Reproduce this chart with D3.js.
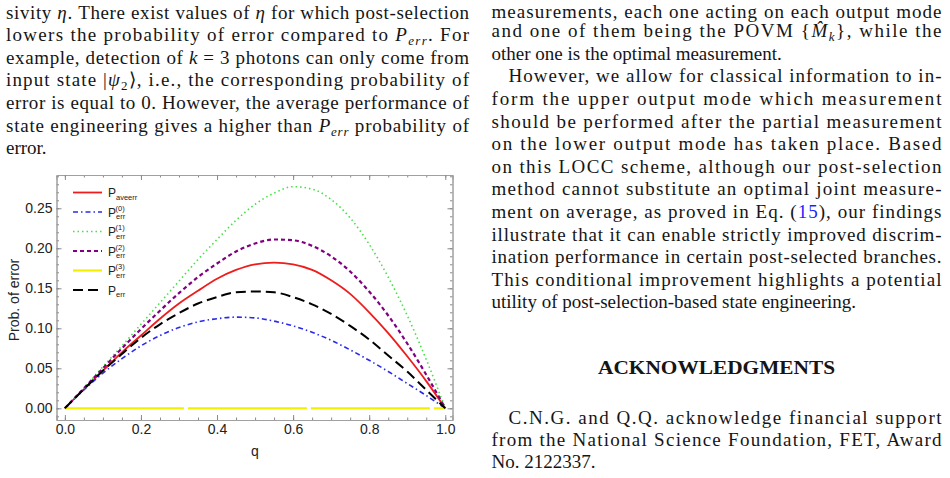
<!DOCTYPE html>
<html>
<head>
<meta charset="utf-8">
<script src="https://d3js.org/d3.v7.min.js"></script>
<style>
  body{margin:0;background:#fff;}
  svg{display:block;}
  .txt{font-family:"Liberation Serif","Times New Roman",serif;font-size:19px;fill:#151515;}
  .ax{font-family:"Liberation Sans",Arial,sans-serif;fill:#222;}
</style>
</head>
<body>
<script>
// values
const qValues = [0,0.05,0.1,0.15,0.2,0.25,0.3,0.35,0.4,0.45,0.5,0.55,0.6,0.65,0.7,0.75,0.8,0.85,0.9,0.95,1];
const pAveErr = [0,0.024,0.047,0.070,0.091,0.112,0.131,0.147,0.162,0.173,0.180,0.182,0.180,0.173,0.160,0.143,0.120,0.094,0.065,0.034,0];
const pErr0   = [0,0.023,0.044,0.062,0.078,0.091,0.101,0.108,0.112,0.114,0.113,0.109,0.103,0.095,0.085,0.073,0.060,0.046,0.031,0.016,0];
const pErr1   = [0,0.025,0.052,0.078,0.105,0.132,0.159,0.186,0.211,0.235,0.255,0.269,0.277,0.274,0.261,0.238,0.205,0.164,0.116,0.061,0];
const pErr2   = [0,0.025,0.050,0.075,0.099,0.122,0.144,0.164,0.181,0.196,0.206,0.211,0.210,0.203,0.190,0.171,0.146,0.116,0.081,0.042,0];
const pErr3   = [0,0,0,0,0,0,0,0,0,0,0,0,0,0,0,0,0,0,0,0,0];
const pErr    = [0,0.024,0.047,0.068,0.088,0.105,0.119,0.131,0.139,0.145,0.146,0.145,0.139,0.130,0.118,0.103,0.086,0.066,0.046,0.023,0];
const xTicks = [0,0.2,0.4,0.6,0.8,1.0];
const yTicks = [0,0.05,0.10,0.15,0.20,0.25];
const legendSup = [null,"(0)","(1)","(2)","(3)",null];
const legendSub = ["aveerr","err","err","err","err","err"];

const series = [
  {v:pAveErr, color:"#ee1d1d", dash:null, w:1.8},
  {v:pErr0, color:"#2a2aee", dash:"5,3,1.5,3", w:1.6},
  {v:pErr1, color:"#45e045", dash:"1.5,3", w:1.6},
  {v:pErr2, color:"#800080", dash:"4,3", w:2.2},
  {v:pErr3, color:"#f2f000", dash:"119,4", w:2.2},
  {v:pErr, color:"#000", dash:"10,5", w:2}
];

// page text
const leftLines = [
  [["sivity "],["η","i"],[". There exist values of "],["η","i"],[" for which post-selection"]],
  [["lowers the probability of error compared to "],["P","i"],["err","isub"],[".  For"]],
  [["example, detection of "],["k","i"],[" = 3 photons can only come from"]],
  [["input state |"],["ψ","i"],["2","sub"],["⟩, i.e., the corresponding probability of"]],
  [["error is equal to 0. However, the average performance of"]],
  [["state engineering gives a higher than "],["P","i"],["err","isub"],[" probability of"]],
  [["error."]]
];
const leftJustify = [1,1,1,1,1,1,0];

const rightLines = [
  [["measurements, each one acting on each output mode"]],
  [["and one of them being the POVM {"],["M\u0302","i"],["k","isub"],["}, while the"]],
  [["other one is the optimal measurement."]],
  [["However, we allow for classical information to in-"]],
  [["form the upper output mode which measurement"]],
  [["should be performed after the partial measurement"]],
  [["on the lower output mode has taken place.  Based"]],
  [["on this LOCC scheme, although our post-selection"]],
  [["method cannot substitute an optimal joint measure-"]],
  [["ment on average, as proved in Eq. ("],["15","blue"],["), our findings"]],
  [["illustrate that it can enable strictly improved discrim-"]],
  [["ination performance in certain post-selected branches."]],
  [["This conditional improvement highlights a potential"]],
  [["utility of post-selection-based state engineering."]]
];
const rightJustify = [1,1,0,1,1,1,1,1,1,1,1,1,1,0];
const rightIndent  = [0,0,0,1,0,0,0,0,0,0,0,0,0,0];
const ackLines = [
  [["C.N.G. and Q.Q. acknowledge financial support"]],
  [["from the National Science Foundation, FET, Award"]],
  [["No. 2122337."]]
];
const ackJustify = [1,1,0];

const W = 950, H = 478;
const svg = d3.select("body").append("svg").attr("width",W).attr("height",H);

function drawLine(g, segs, x, y, width, justify){
  const t = g.append("text").attr("class","txt").attr("x",x).attr("y",y);
  if (justify) t.attr("textLength",width).attr("lengthAdjust","spacing");
  let shifted = 0;
  segs.forEach(([s,k])=>{
    const ts = t.append("tspan").text(s);
    const isSub = k==="sub" || k==="isub";
    if (k && k.indexOf("i")===0) ts.attr("font-style","italic");
    if (isSub){ ts.attr("font-size","13px"); if(!shifted){ts.attr("dy",4); shifted=1;} }
    else if (shifted){ ts.attr("dy",-4); shifted=0; }
    if (k==="blue") ts.attr("fill","#1f1fff");
  });
}

const textG = svg.append("g");
const lx0 = 6, lx1 = 469, rx0 = 491.5, rx1 = 941.5, indent = 17, lh = 22.6;
leftLines.forEach((l,i)=>drawLine(textG, l, lx0, 18.5 + i*lh, lx1-lx0, leftJustify[i]));
rightLines.forEach((l,i)=>{
  const x0 = rx0 + (rightIndent[i]?indent:0);
  // first line sits at the page top; keep it fully inside
  drawLine(textG, l, x0, i===0 ? 17.5 : 14.5 + i*lh, rx1-x0, rightJustify[i]);
});
textG.append("text").attr("class","txt")
  .attr("x",716.5).attr("y",374).attr("text-anchor","middle")
  .attr("font-weight","bold").attr("font-size","16px")
  .attr("textLength",237).attr("lengthAdjust","spacingAndGlyphs")
  .text("ACKNOWLEDGMENTS");
ackLines.forEach((l,i)=>{
  const x0 = rx0 + (i===0?indent:0);
  drawLine(textG, l, x0, 423.5 + i*22.4, rx1-x0, ackJustify[i]);
});

// chart
const x = d3.scaleLinear().domain([-0.022,1.019]).range([56.5,452.5]);
const y = d3.scaleLinear().domain([-0.0146,0.2916]).range([420,175]);
const chart = svg.append("g");

const fmtX = d3.format(".1f"), fmtY = d3.format(".2f");
function frameAxis(axis, pos, major, minor, labels, fmt){
  const gMinor = chart.append("g").attr("transform",pos)
    .call(axis.tickValues(minor).tickSize(-2.5).tickFormat(""));
  const g = chart.append("g").attr("transform",pos)
    .call(axis.tickValues(major).tickSize(-5).tickPadding(labels?4:0).tickFormat(labels?fmt:""));
  [gMinor,g].forEach(a=>{
    a.select(".domain").attr("stroke","#a0a0a0");
    a.selectAll(".tick line").attr("stroke","#8a8a8a");
  });
  g.selectAll("text").attr("class","ax").attr("font-size","14px");
  return g;
}
const xMinor = x.ticks(20), yMinor = y.ticks(30);
frameAxis(d3.axisBottom(x), "translate(0,420)", xTicks, xMinor, true, fmtX);
frameAxis(d3.axisTop(x), "translate(0,175)", xTicks, xMinor, false);
frameAxis(d3.axisLeft(y), "translate(56.5,0)", yTicks, yMinor, true, fmtY);
frameAxis(d3.axisRight(y), "translate(452.5,0)", yTicks, yMinor, false);

chart.append("text").attr("class","ax").attr("font-size","14px")
  .attr("x",255).attr("y",456).attr("text-anchor","middle").text("q");
chart.append("text").attr("class","ax").attr("font-size","14px")
  .attr("transform","translate(19,300) rotate(-90)").attr("text-anchor","middle")
  .text("Prob. of error");

const line = d3.line().x((d,i)=>x(qValues[i])).y(d=>y(d)).curve(d3.curveMonotoneX);
series.forEach(s=>{
  chart.append("path").attr("d",line(s.v)).attr("fill","none")
    .attr("stroke",s.color).attr("stroke-width",s.w)
    .attr("stroke-dasharray",s.dash);
});

// legend
const ly = d3.scaleLinear().domain([0,5]).range([192.5,290]);
const leg = chart.append("g");
series.forEach((s,i)=>{
  const yy = ly(i);
  leg.append("line").attr("x1",73).attr("x2",102).attr("y1",yy).attr("y2",yy)
    .attr("stroke",s.color).attr("stroke-width",s.w)
    .attr("stroke-dasharray",s.dash==="119,4"?null:s.dash);
  leg.append("text").attr("class","ax").attr("font-size","12px")
    .attr("x",108).attr("y",yy+4.5).text("P");
  leg.append("text").attr("class","ax").attr("font-size","7.5px")
    .attr("x",116).attr("y",yy+7).text(legendSub[i]);
  if (legendSup[i]) leg.append("text").attr("class","ax").attr("font-size","7.5px")
    .attr("x",115.5).attr("y",yy-1.5).text(legendSup[i]);
});
</script>
</body>
</html>
